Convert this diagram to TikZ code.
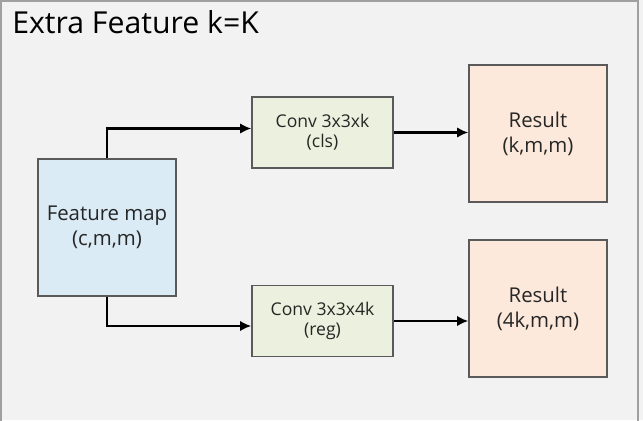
\documentclass[tikz,border=0pt]{standalone}
\usepackage{fontspec}
\setmainfont{Open Sans}
\usepackage{tikz}
\usetikzlibrary{arrows.meta,positioning,calc}
\definecolor{bggris}{RGB}{242,242,242}
\definecolor{cadre}{RGB}{160,160,160}
\definecolor{bordgris}{RGB}{90,90,90}
\definecolor{txtgris}{RGB}{38,38,38}
\definecolor{fbleu}{RGB}{218,235,245}
\definecolor{fvert}{RGB}{235,241,222}
\definecolor{fpeche}{RGB}{252,233,219}
\tikzset{
  fmapbox/.style={
    rectangle, draw=bordgris, fill=fbleu, line width=1pt,
    minimum width=3.45cm, minimum height=3.425cm, align=center,
    text=txtgris, font=\fontsize{14.5}{17.8}\selectfont
  },
  convbox/.style={
    rectangle, draw=bordgris, fill=fvert, line width=1pt,
    minimum width=3.525cm, minimum height=1.775cm, align=center,
    text=txtgris, font=\fontsize{12.5}{14.2}\selectfont
  },
  resbox/.style={
    rectangle, draw=bordgris, fill=fpeche, line width=1pt,
    minimum width=3.45cm, minimum height=3.425cm, align=center,
    text=txtgris, font=\fontsize{14.5}{17.8}\selectfont
  },
  flecha/.style={-{Latex[length=8pt,width=7.5pt]}, line width=1.8pt, black}
}
\begin{document}
\begin{tikzpicture}[x=0.025cm, y=-0.025cm]
  % Background and frame
  \fill[bggris] (0,0) rectangle (643,420);
  \useasboundingbox (0,0) rectangle (643,420);
  \draw[cadre, line width=1.4pt] (1,425) -- (1,1) -- (638,1) -- (638,425);
  \node[anchor=base west, font=\fontsize{21.5}{25}\selectfont, text=black, inner sep=0pt]
    (titre) at (12,34) {Extra Feature k=K};

  % Boxes
  \node[fmapbox] (fmap) at (107,227.5) {Feature map\\(c,m,m)};
  \node[convbox] (cls)  at (322.5,132.5) {Conv 3x3xk\\(cls)};
  \node[convbox] (reg)  at (322.5,321)   {Conv 3x3x4k\\(reg)};
  \node[resbox]  (res1) at (538,133.5) {Result\\(k,m,m)};
  \node[resbox]  (res2) at (538,308.5) {Result\\(4k,m,m)};

  % Arrows
  \draw[flecha] (fmap.north) |- ($(cls.west)+(0,-4)$);
  \draw[flecha] (fmap.south) |- ($(reg.west)+(0,5)$);
  \draw[flecha] (cls.east) -- (res1.west |- cls.east);
  \draw[flecha] (reg.east) -- (res2.west |- reg.east);
\end{tikzpicture}
\end{document}
